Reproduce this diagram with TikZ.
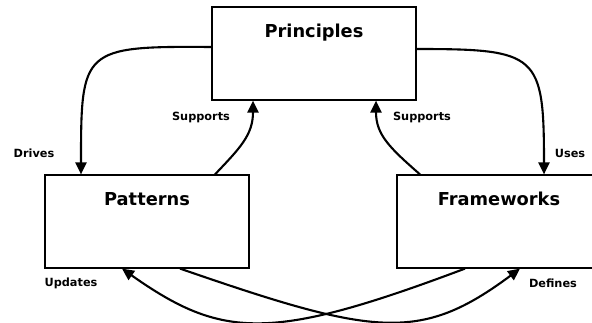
\documentclass[tikz,border=0pt]{standalone}
\usepackage{fontspec}
\setmainfont{DejaVu Sans}
\usetikzlibrary{arrows.meta}

\tikzset{
  box/.style={draw=black, line width=1.2pt, fill=white, inner sep=0pt,
              minimum width=204pt, minimum height=93pt},
  title/.style={anchor=base, inner sep=0pt, font=\bfseries\fontsize{17.8}{20}\selectfont},
  tag/.style={anchor=base, inner sep=0pt, font=\bfseries\fontsize{11.3}{13}\selectfont},
  link/.style={line width=2.1pt, -{Triangle[length=12pt,width=11pt]}}
}

\begin{document}
\begin{tikzpicture}[x=1pt, y=-1pt]
  \useasboundingbox (0,0) rectangle (592,322);
  \clip (0,0) rectangle (592,322);
  \fill[white] (0,0) rectangle (592,322);

  % boxes
  \node[box] (pri) at (314,53.5) {};
  \node[box] (pat) at (147,221.5) {};
  \node[box] (fw)  at (499,221.5) {};

  % box titles
  \node[title] (tpri) at (314,37) {Principles};
  \node[title] (tpat) at (147,205) {Patterns};
  \node[title] (tfw)  at (499,205) {Frameworks};

  % connectors
  \draw[link] ([yshift=6.5pt]pri.west) .. controls (82,46) and (81,49) .. ([xshift=-66pt]pat.north);
  \draw[link] ([yshift=4.5pt]pri.east) .. controls (538,49) and (544,54) .. ([xshift=45pt]fw.north);
  \draw[link] ([xshift=68pt]pat.north) .. controls (240,148) and (253,135) .. ([xshift=-61pt]pri.south);
  \draw[link] ([xshift=-79pt]fw.north) .. controls (390,148) and (376,135) .. ([xshift=62pt]pri.south);
  \draw[link] ([xshift=-34pt]fw.south) .. controls (270,342) and (222,339) .. ([xshift=-25pt]pat.south);
  \draw[link] ([xshift=33pt]pat.south) .. controls (375,336) and (420,343) .. ([xshift=21pt]fw.south);

  % connector labels
  \node[tag] (ldrives) at (34,157) {Drives};
  \node[tag] (luses)   at (570,157) {Uses};
  \node[tag] (lsupl)   at (201,120) {Supports};
  \node[tag] (lsupr)   at (422,120) {Supports};
  \node[tag] (lupd)    at (71,286) {Updates};
  \node[tag] (ldef)    at (553,287) {Defines};
\end{tikzpicture}
\end{document}
